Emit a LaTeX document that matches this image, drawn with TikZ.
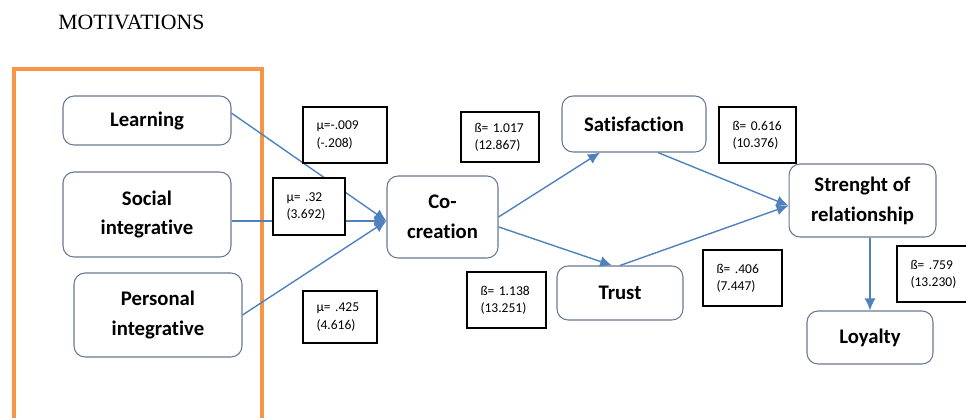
\documentclass[tikz,border=0pt]{standalone}
\usepackage{fontspec}
\setmainfont{Liberation Serif}
\newfontfamily\calibri[Ligatures=NoCommon]{Carlito}
\usetikzlibrary{arrows.meta,positioning}
\definecolor{lineblue}{RGB}{79,129,189}
\definecolor{boxgray}{RGB}{105,120,145}
\definecolor{frameorange}{RGB}{247,150,70}

\begin{document}
\begin{tikzpicture}[x=0.02cm, y=-0.02cm]
\tikzset{
    mynode/.style={rectangle, rounded corners=0.22cm, draw=boxgray, fill=white, line width=0.6pt, inner sep=0pt, align=center, font=\calibri\bfseries\fontsize{11.8}{17}\selectfont},
    myarrow/.style={-{Latex[length=2.4mm,width=2.2mm]}, lineblue, line width=0.8pt},
    mylabel/.style={rectangle, draw=black, fill=white, line width=0.6pt, align=left, text width=#1, inner xsep=0.27cm, inner ysep=0pt, minimum height=1.12cm, font=\calibri\fontsize{7.7}{9.8}\selectfont},
    mylabel/.default=1.04cm
}
\useasboundingbox (0,0) rectangle (966,417);

\node[anchor=west, inner sep=0pt, font=\fontsize{12.4}{14}\selectfont] (title) at (58,22) {MOTIVATIONS};
\draw[frameorange, line width=2.2pt] (14,69) rectangle (262,430);

\node[mynode, minimum width=3.36cm, minimum height=0.98cm] (learning) at (147,120.5) {Learning};
\node[mynode, minimum width=3.36cm, minimum height=1.7cm] (social) at (147,214.5) {Social\\integrative};
\node[mynode, minimum width=3.36cm, minimum height=1.68cm] (personal) at (158,315) {Personal\\integrative};
\node[mynode, minimum width=2.22cm, minimum height=1.64cm] (cocreation) at (442.5,217) {Co-\\creation};
\node[mynode, minimum width=2.88cm, minimum height=1.12cm] (satisfaction) at (634,124) {Satisfaction};
\node[mynode, minimum width=2.52cm, minimum height=1.08cm] (trust) at (620,293) {Trust};
\node[mynode, minimum width=2.94cm, minimum height=1.46cm] (strength) at (862.5,200.5) {Strenght of\\relationship};
\node[mynode, minimum width=2.52cm, minimum height=1.06cm] (loyalty) at (870,337.5) {Loyalty};

% the three motivations meet in one point of the co-creation box
\draw[myarrow] (learning.5) -- (cocreation.184);
\draw[myarrow] (social.east |- cocreation.184) -- (cocreation.184);
\draw[myarrow] (personal.east) -- (cocreation.184);
\draw[myarrow] (cocreation.east) -- (satisfaction.220);
\draw[myarrow] (cocreation.-10) -- (trust.106);
\draw[myarrow] (satisfaction.-50) -- (strength.184);
\draw[myarrow] (trust.north) -- (strength.184);
\draw[myarrow] (strength.south -| loyalty.north) -- (loyalty.north);

% coefficient boxes are drawn last so they hide the lines under them
\node[mylabel=1.14cm] (label1) at (345,135) {µ=-.009\\(-.208)};
\node[mylabel=0.9cm, minimum height=1.14cm] (label2) at (309,206.5) {µ=~.32\\(3.692)};
\node[mylabel=0.94cm, minimum height=1.04cm] (label3) at (340,317) {µ=~.425\\(4.616)};
\node[mylabel=1.02cm, minimum height=1cm] (label4) at (500,137) {ß=~1.017\\(12.867)};
\node[mylabel] (label5) at (506.5,300) {ß=~1.138\\(13.251)};
\node[mylabel=1cm] (label6) at (757.5,135) {ß=~0.616\\(10.376)};
\node[mylabel] (label7) at (742.5,278) {ß=~.406\\(7.447)};
\node[mylabel] (label8) at (936.5,274) {ß=~.759\\(13.230)};

\end{tikzpicture}
\end{document}
